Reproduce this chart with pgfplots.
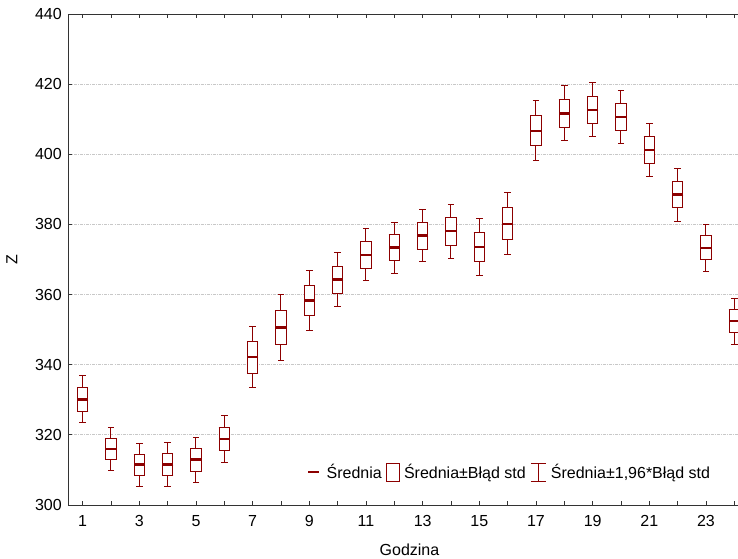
\documentclass[border=0pt]{standalone}
\usepackage{fontspec}
\setmainfont{Liberation Sans}
\usepackage{pgfplots}
\usepackage{pgfplotstable}
\pgfplotsset{compat=1.18}
\definecolor{dred}{RGB}{140,0,0}
\definecolor{gridc}{RGB}{200,200,200}
% hour, mean-1.96SE, mean-SE, mean, mean+SE, mean+1.96SE
\pgfplotstableread{
h lw lq m uq uw
1 323.6 326.8 330.1 333.4 336.9
2 309.9 312.9 316.0 319.0 322.0
3 305.3 308.3 311.5 314.5 317.5
4 305.2 308.3 311.5 314.7 317.9
5 306.5 309.6 313.0 316.2 319.3
6 312.0 315.4 318.8 322.2 325.5
7 333.5 337.6 342.2 346.7 350.8
8 341.3 345.8 350.6 355.4 360.1
9 349.8 354.0 358.3 362.7 366.8
10 356.5 360.3 364.3 368.1 372.0
11 363.9 367.4 371.3 375.1 378.7
12 366.1 369.7 373.4 377.1 380.6
13 369.3 372.9 376.8 380.5 384.2
14 370.2 374.0 378.1 381.9 385.8
15 365.4 369.5 373.6 377.8 381.7
16 371.3 375.6 380.2 384.7 389.1
17 398.2 402.4 406.7 411.1 415.4
18 403.9 407.7 411.6 415.6 419.5
19 405.0 408.7 412.6 416.5 420.4
20 403.1 406.8 410.6 414.4 418.1
21 393.6 397.3 401.2 405.0 408.7
22 380.9 384.8 388.5 392.3 395.9
23 366.5 369.9 373.3 376.8 380.0
24 345.9 349.2 352.5 355.8 358.8
}\data
\pgfplotsset{
  nomark/.style={forget plot, color=dred, only marks, mark=*, mark size=0pt,
    mark options={draw opacity=0, fill opacity=0}},
}
\begin{document}
\begin{tikzpicture}[font=\fontsize{16}{19}\selectfont]
\useasboundingbox (-68.5pt,-53pt) rectangle (669.5pt,505pt);
\begin{axis}[
  scale only axis, width=669.5pt, height=491pt,
  xmin=0.5, xmax=24.13, ymin=300, ymax=440,
  axis x line=box, axis y line=left, axis line style={-, line width=0.9pt, black!80},
  tick style={black!80, line width=0.8pt}, major tick length=4pt, tick align=inside,
  xtick={1,...,24},
  xticklabels={1,,3,,5,,7,,9,,11,,13,,15,,17,,19,,21,,23,},
  ytick={300,320,...,440},
  /pgf/number format/assume math mode=true,
  yticklabel style={xshift=-3.2pt},
  xticklabel style={yshift=-7pt},
  ymajorgrids, major grid style={gridc, line width=0.8pt, dash pattern=on 3pt off 1pt on 1pt off 1pt},
  xlabel={Godzina}, ylabel={Z},
  xlabel style={at={(axis description cs:0.5093,-0.0906)}, anchor=center},
  ylabel style={at={(axis description cs:-0.0844,0.5)}, anchor=center},
  legend style={at={(axis description cs:0.3517,0.067)}, anchor=west, draw=none, fill=none,
    legend columns=3, /tikz/every even column/.append style={column sep=2.5pt},
    /tikz/column 4/.append style={column sep=0pt}},
]
% whiskers: mean +- 1.96 SE
\addplot[nomark,
  error bars/.cd, y dir=both, y explicit,
  error bar style={draw=dred, line width=1pt, solid},
  error mark=|, error mark options={draw=dred, line width=1pt, mark size=3.2pt}]
  table[x=h, y=m, y error plus expr=\thisrow{uw}-\thisrow{m}, y error minus expr=\thisrow{m}-\thisrow{lw}] {\data};
% box outline sides: mean +- SE
\addplot[nomark,
  error bars/.cd, y dir=both, y explicit,
  error bar style={draw=dred, line width=11.3pt, solid, line cap=butt},
  error mark=none]
  table[x=h, y=m, y error plus expr=\thisrow{uq}-\thisrow{m}, y error minus expr=\thisrow{m}-\thisrow{lq}] {\data};
% box interior + top/bottom edges
\addplot[nomark,
  error bars/.cd, y dir=both, y explicit,
  error bar style={draw=white, line width=9.3pt, solid, line cap=butt},
  error mark=|, error mark options={draw=dred, line width=1pt, mark size=5.65pt}]
  table[x=h, y=m, y error plus expr=\thisrow{uq}-\thisrow{m}, y error minus expr=\thisrow{m}-\thisrow{lq}] {\data};
% mean
\addplot[forget plot, color=dred, only marks, mark=-, mark size=5.65pt, mark options={solid, draw=dred, line width=2.4pt}]
  table[x=h, y=m] {\data};
\addlegendimage{legend image code/.code={\draw[dred, line width=2.6pt] (0pt,0pt) -- (11pt,0pt); \path (16pt,0pt);}}
\addlegendentry{Średnia}
\addlegendimage{legend image code/.code={\draw[dred, line width=1pt, fill=white] (0pt,-9pt) rectangle (12.7pt,9pt); \path (15pt,0pt);}}
\addlegendentry{Średnia±Błąd std}
\addlegendimage{legend image code/.code={\draw[dred, line width=1pt] (0pt,-9pt) -- (15pt,-9pt) (7.5pt,-9pt) -- (7.5pt,9pt) (0pt,9pt) -- (15pt,9pt); \path (18pt,0pt);}}
\addlegendentry{Średnia±1,96*Błąd std}
\end{axis}
\end{tikzpicture}
\end{document}
